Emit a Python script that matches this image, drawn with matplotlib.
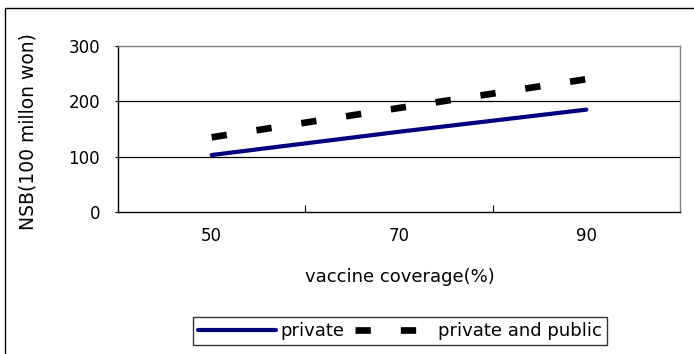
import matplotlib
matplotlib.use("Agg")
import matplotlib.pyplot as plt
from matplotlib.patches import Rectangle

categories = ["50", "70", "90"]
private = [103, 145, 185]
private_public = [135, 188, 240]
yticks = [0, 100, 200, 300]

plt.rcParams['font.family'] = ['DejaVu Sans']

fig = plt.figure(figsize=(6.94, 3.54), dpi=100)
ax = fig.add_axes([118/694, 1-212/354, (680-118)/694, (212-46)/354])

x = list(range(len(categories)))
ax.plot(x, private, color="#000080", lw=3.0, solid_capstyle="round", label="private", zorder=3)
ax.plot(x, private_public, color="black", lw=4.8, dashes=(2.3, 4.5),
        dash_capstyle="butt", label="private and public", zorder=3)

ax.set_xlim(-0.5, len(categories) - 0.5)
ax.set_ylim(0, 300)
ax.set_yticks(yticks)
ax.set_yticklabels([str(v) for v in yticks], fontsize=12)
ax.set_xticks(x)
ax.set_xticklabels(categories, fontsize=12)
ax.set_xticks([i + 0.5 for i in x[:-1]], minor=True)
ax.tick_params(axis="x", which="major", length=0, pad=10.5)
ax.tick_params(axis="x", which="minor", length=5, direction="in", width=0.8)
ax.tick_params(axis="y", which="major", length=2, direction="out", width=0.8, pad=11)

for v in yticks[1:-1]:
    ax.axhline(v, color="black", lw=0.9, zorder=1)

for s in ["top", "right"]:
    ax.spines[s].set_color("#808080")
for s in ["left", "bottom"]:
    ax.spines[s].set_color("black")
for s in ax.spines.values():
    s.set_linewidth(1.0)

fig.text(400/694, 1 - 277/354, "vaccine coverage(%)", fontsize=13, ha="center", va="center")
fig.text(28/694, 1 - 132/354, "NSB(100 millon won)", fontsize=13.5, ha="center", va="center",
         rotation=90)

fig.patches.append(Rectangle((5/694, -0.1), 1.2, 1 - 8/354 + 0.1, transform=fig.transFigure,
                             fill=False, edgecolor="black", lw=1.0, clip_on=False))

leg = fig.legend(loc="center", bbox_to_anchor=(400/694, 1 - 331/354), ncol=2,
                 fontsize=13, frameon=True, fancybox=False, edgecolor="black",
                 handlelength=4.3, handletextpad=0.25, columnspacing=0.6,
                 borderpad=0.3, borderaxespad=0)
leg.get_frame().set_linewidth(1.0)

fig.savefig("out.png", dpi=100)
